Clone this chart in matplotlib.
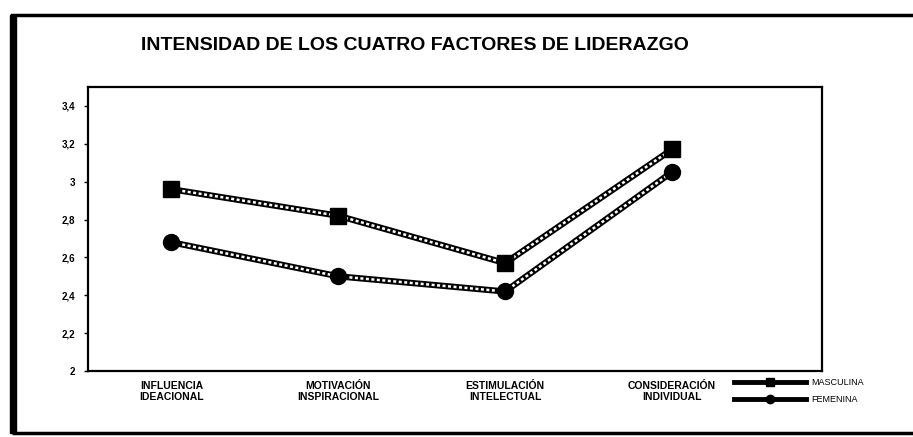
import matplotlib.pyplot as plt
from matplotlib.lines import Line2D
from matplotlib.patches import Rectangle

# Data
categorias = ["INFLUENCIA\nIDEACIONAL", "MOTIVACIÓN\nINSPIRACIONAL",
              "ESTIMULACIÓN\nINTELECTUAL", "CONSIDERACIÓN\nINDIVIDUAL"]
masculina = [2.96, 2.82, 2.57, 3.17]
femenina = [2.68, 2.50, 2.42, 3.05]
y_ticks = [2, 2.2, 2.4, 2.6, 2.8, 3, 3.2, 3.4]
y_labels = ["2", "2,2", "2,4", "2,6", "2,8", "3", "3,2", "3,4"]

plt.rcParams["font.family"] = ["Liberation Sans", "DejaVu Sans"]

fig = plt.figure(figsize=(9.13, 4.37), dpi=100)
ax = fig.add_axes([0.0964, 0.151, 0.804, 0.650])

x = list(range(len(categorias)))


def chain_line(ys, marker, ms):
    # thick black line with white dots on top gives the chain look of the scan
    ax.plot(x, ys, color="black", lw=4.5, solid_capstyle="butt", zorder=2)
    ax.plot(x, ys, color="white", lw=1.8, linestyle=(0, (1.2, 1.0)), zorder=3)
    ax.plot(x, ys, linestyle="none", marker=marker, ms=ms, color="black", zorder=4)


chain_line(masculina, "s", 12)
chain_line(femenina, "o", 11.5)

ax.set_xlim(-0.5, 3.9)
ax.set_ylim(2, 3.5)
ax.set_yticks(y_ticks)
ax.set_yticklabels(y_labels, fontsize=7, fontweight="bold")
ax.set_xticks(x)
ax.set_xticklabels(categorias, fontsize=7.5, fontweight="bold", linespacing=1.15)
ax.tick_params(axis="x", length=0, pad=7)
ax.tick_params(axis="y", length=3, width=1, pad=6)
for s in ax.spines.values():
    s.set_linewidth(1.6)
    s.set_color("black")

fig.text(0.455, 0.895, "INTENSIDAD DE LOS CUATRO FACTORES DE LIDERAZGO",
         ha="center", va="center", fontsize=14, fontweight="bold")

# legend below the plot area on the right
handles = [Line2D([0], [0], color="black", lw=3.5, marker="s", ms=6),
           Line2D([0], [0], color="black", lw=3.5, marker="o", ms=6)]
fig.legend(handles, ["MASCULINA", "FEMENINA"], loc="center left",
           bbox_to_anchor=(0.795, 0.105), frameon=False, fontsize=6.5,
           handlelength=8, labelspacing=0.9, handletextpad=0.6)

# outer frame of the scanned figure
fig.patches.append(Rectangle((0.013, 0.01), 1.2, 0.955, transform=fig.transFigure,
                             fill=False, lw=2.5, color="black"))
fig.patches.append(Rectangle((0.011, 0.01), 0.007, 0.955, transform=fig.transFigure,
                             color="black"))

fig.savefig("out.png", dpi=100)
plt.close(fig)
